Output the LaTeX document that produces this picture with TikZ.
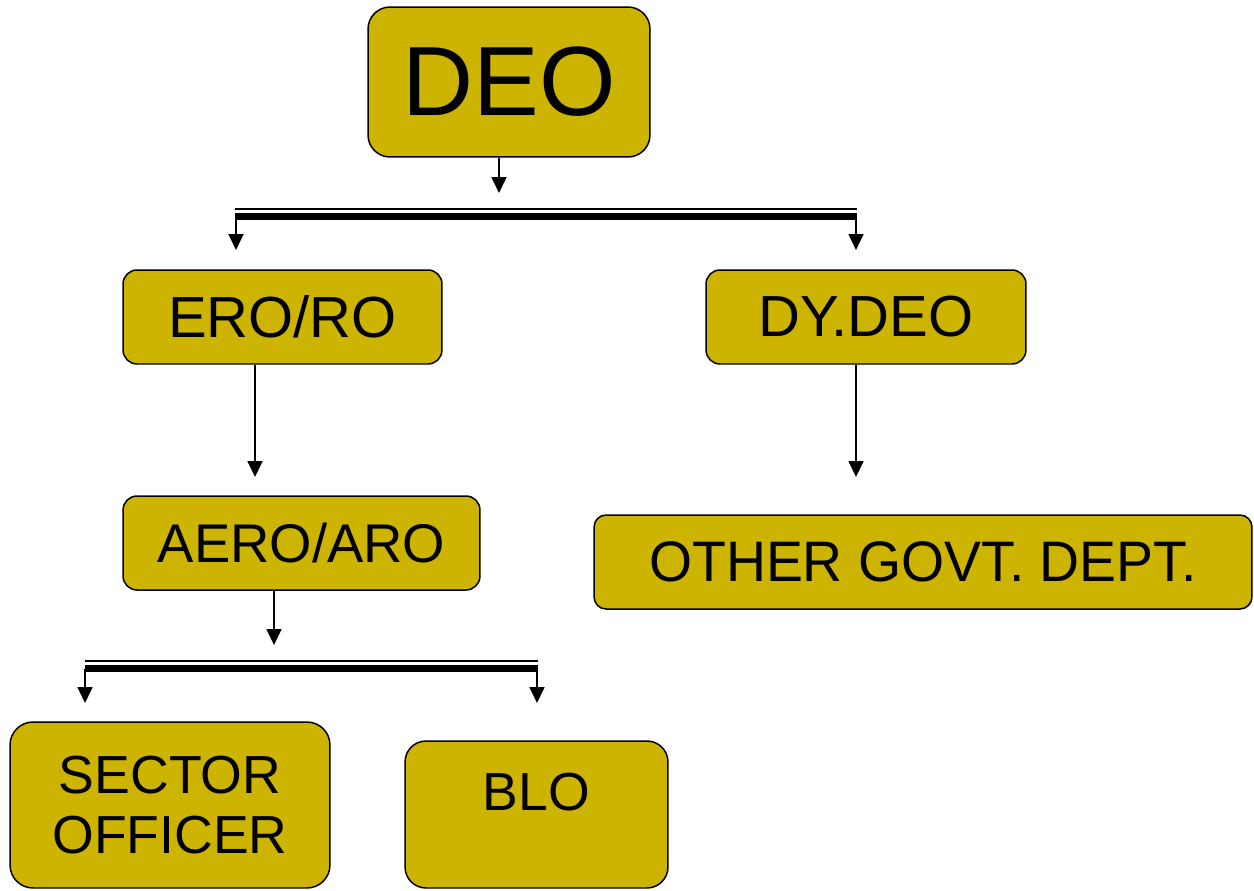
\documentclass[tikz,border=0pt]{standalone}
\usepackage{fontspec}
\setmainfont{Liberation Sans}
\usetikzlibrary{arrows.meta}
\definecolor{officegold}{RGB}{204,180,0}
\begin{document}
\begin{tikzpicture}[x=0.02cm,y=-0.02cm]
    \tikzstyle{office box}=[rectangle, draw, line width=0.85pt, fill=officegold, rounded corners=0.28cm, inner sep=0pt, minimum height=1.88cm];
    \tikzstyle{link}=[line width=1.1pt, -{Triangle[width=8.4pt,length=9pt]}];
    \tikzstyle{bar top}=[line width=1.1pt];
    \tikzstyle{bar low}=[line width=3.8pt];

    \useasboundingbox (0,0) rectangle (1254,890);

    \node[office box, minimum width=5.64cm, minimum height=3cm, rounded corners=0.44cm, font=\fontsize{56}{60}\selectfont] (deo) at (509,82) {DEO};

    \node[office box, minimum width=6.38cm, font=\fontsize{33}{38}\selectfont] (ero) at (282.5,317) {ERO/RO};
    \node[office box, minimum width=6.4cm, font=\fontsize{33}{38}\selectfont] (dydeo) at (866,317) {DY.DEO};

    \node[office box, minimum width=7.14cm, font=\fontsize{31}{36}\selectfont] (aero) at (301.5,543) {AERO/ARO};
    \node[office box, minimum width=13.16cm, rounded corners=0.24cm, font=\fontsize{32.5}{36}\selectfont] (other) at (923,562) {\scalebox{0.97}[1]{OTHER GOVT. DEPT.}};

    \node[office box, minimum width=6.4cm, minimum height=3.32cm, rounded corners=0.46cm, align=center, font=\fontsize{30.5}{34}\selectfont] (sector) at (170,805) {SECTOR\\OFFICER};
    \node[office box, minimum width=5.26cm, minimum height=2.94cm, rounded corners=0.42cm, text height=1.38cm, text depth=1.56cm, font=\fontsize{30.5}{34}\selectfont] (blo) at (536.5,814.5) {BLO};

    % split points
    \coordinate (d1) at (499,193);
    \coordinate (b1l) at (235,209);
    \coordinate (b1r) at (857,209);
    \coordinate (e1) at (236,250);
    \coordinate (e2) at (856,250);
    \coordinate (e3) at (255,477);
    \coordinate (e4) at (856,477);
    \coordinate (d2) at (274,645);
    \coordinate (b2l) at (85,661);
    \coordinate (b2r) at (538,661);
    \coordinate (e5) at (85,703);
    \coordinate (e6) at (537,703);

    \draw[link] (deo.south -| d1) -- (d1);
    \draw[bar top] (b1l) -- (b1r);
    \draw[bar low] ([yshift=-0.15cm]b1l) -- ([yshift=-0.15cm]b1r);
    \draw[link] ([yshift=-0.15cm]b1l -| e1) -- (e1);
    \draw[link] ([yshift=-0.15cm]b1r -| e2) -- (e2);

    \draw[link] (ero.south -| e3) -- (e3);
    \draw[link] (dydeo.south -| e4) -- (e4);

    \draw[link] (aero.south -| d2) -- (d2);
    \draw[bar top] (b2l) -- (b2r);
    \draw[bar low] ([yshift=-0.15cm]b2l) -- ([yshift=-0.15cm]b2r);
    \draw[link] ([yshift=-0.15cm]b2l -| e5) -- (e5);
    \draw[link] ([yshift=-0.15cm]b2r -| e6) -- (e6);

\end{tikzpicture}
\end{document}
